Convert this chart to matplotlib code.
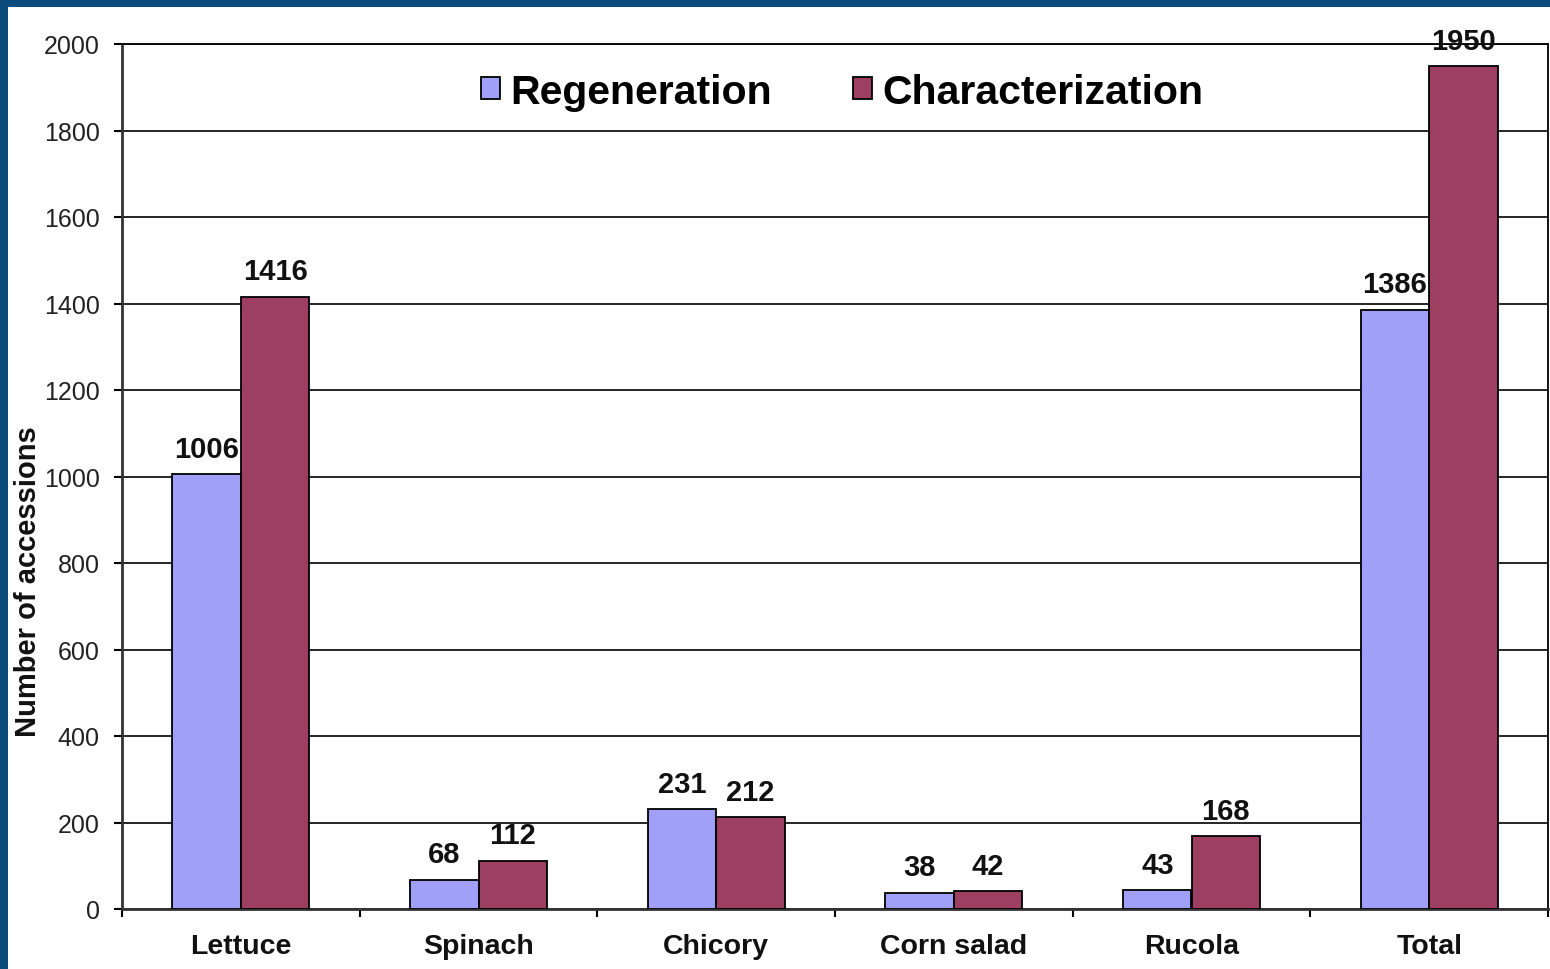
import matplotlib
matplotlib.use("Agg")
import matplotlib.pyplot as plt
import numpy as np
from matplotlib.patches import Rectangle

# --- DATA ---
crops = ["Lettuce", "Spinach", "Chicory", "Corn salad", "Rucola", "Total"]
regeneration = [1006, 68, 231, 38, 43, 1386]
characterization = [1416, 112, 212, 42, 168, 1950]
y_ticks = [0, 200, 400, 600, 800, 1000, 1200, 1400, 1600, 1800, 2000]

# --- STYLE ---
BORDER = "#0b4c7c"
REG_COLOR = "#a0a0f8"
CHAR_COLOR = "#9c3f60"
BAR_W = 0.288

plt.rcParams["font.family"] = ["Liberation Sans", "DejaVu Sans"]

fig = plt.figure(figsize=(15.5, 9.7), dpi=100, facecolor=BORDER)
# white panel inside the blue frame (frame shows on top and left)
fig.patches.append(Rectangle((8 / 1550, 0), 1, 962 / 970, transform=fig.transFigure,
                             facecolor="white", edgecolor="none", zorder=-10))

ax = fig.add_axes([122 / 1550, 60 / 970, 1426 / 1550, 865 / 970])
ax.set_facecolor("white")

x = np.arange(len(crops))
b1 = ax.bar(x - BAR_W / 2, regeneration, BAR_W, color=REG_COLOR, edgecolor="black",
            linewidth=1.3, label="Regeneration", zorder=3)
b2 = ax.bar(x + BAR_W / 2, characterization, BAR_W, color=CHAR_COLOR, edgecolor="black",
            linewidth=1.3, label="Characterization", zorder=3)

# value labels above bars
for bars, vals in ((b1, regeneration), (b2, characterization)):
    for rect, v in zip(bars, vals):
        ax.annotate(str(v), (rect.get_x() + rect.get_width() / 2, v),
                    xytext=(0, 8), textcoords="offset points", ha="center", va="bottom",
                    fontsize=21, fontweight="bold", color="#111111", zorder=4)

ax.set_xlim(-0.5, len(crops) - 0.5)
ax.set_ylim(0, 2000)
ax.set_yticks(y_ticks)
ax.tick_params(axis="y", direction="out", length=6, width=1.5, pad=10,
               labelsize=18, labelcolor="#222222")
ax.yaxis.grid(True, color="black", linewidth=1.2, zorder=0)
ax.set_axisbelow(True)

# ticks at category boundaries, labels at centers
ax.set_xticks(np.arange(-0.5, len(crops), 1.0))
ax.set_xticklabels([])
ax.tick_params(axis="x", which="major", direction="out", length=6, width=1.5)
ax.set_xticks(x, minor=True)
ax.set_xticklabels(crops, minor=True, fontsize=20.5, fontweight="bold", color="#111111")
ax.tick_params(axis="x", which="minor", length=0, pad=17)

for side in ("left", "bottom"):
    ax.spines[side].set_linewidth(2)
    ax.spines[side].set_color("#333333")
for side in ("top", "right"):
    ax.spines[side].set_linewidth(1.3)
    ax.spines[side].set_color("black")

ax.set_ylabel("Number of accessions", fontsize=21, fontweight="bold", color="#111111")
ax.yaxis.set_label_coords(-0.056, 0.38)

ax.legend(loc="center", bbox_to_anchor=(0.505, 0.945), ncol=2, frameon=False,
          prop={"size": 29.5, "weight": "bold"}, handlelength=0.45, handleheight=0.45,
          handletextpad=0.25, columnspacing=2.0)

fig.savefig("out.png", dpi=100, facecolor=fig.get_facecolor())
